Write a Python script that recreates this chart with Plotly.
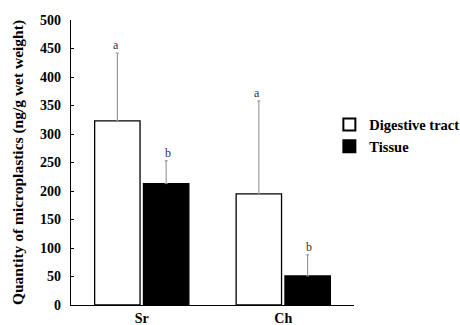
import plotly.graph_objects as go

categories = ["Sr", "Ch"]
digestive = [323, 195]
digestive_err = [119, 163]
tissue = [213, 51]
tissue_err = [40, 37]
digestive_letters = ["a", "a"]
tissue_letters = ["b", "b"]
y_ticks = [0, 50, 100, 150, 200, 250, 300, 350, 400, 450, 500]

FONT = "Liberation Serif"

fig = go.Figure()
fig.add_trace(go.Bar(
    name="Digestive tract", x=categories, y=digestive,
    marker=dict(color="white", line=dict(color="black", width=1.3)),
    error_y=dict(type="data", symmetric=False, array=digestive_err,
                 arrayminus=[0] * len(digestive), color="#8a8a8a",
                 thickness=1, width=1.5),
))
fig.add_trace(go.Bar(
    name="Tissue", x=categories, y=tissue,
    marker=dict(color="black", line=dict(color="black", width=1.3)),
    error_y=dict(type="data", symmetric=False, array=tissue_err,
                 arrayminus=[0] * len(tissue), color="#8a8a8a",
                 thickness=1, width=1.5),
))

for i, c in enumerate(categories):
    fig.add_annotation(x=c, y=digestive[i] + digestive_err[i], text=digestive_letters[i],
                       xshift=-26, yshift=8, showarrow=False,
                       font=dict(family=FONT, size=12, color="#333333"))
    fig.add_annotation(x=c, y=tissue[i] + tissue_err[i], text=tissue_letters[i],
                       xshift=26, yshift=8, showarrow=False,
                       font=dict(family=FONT, size=12, color="#333333"))

fig.update_layout(
    width=460, height=325,
    margin=dict(l=71, r=106, t=20, b=20, autoexpand=False),
    paper_bgcolor="white", plot_bgcolor="white",
    barmode="group", bargap=0.31, bargroupgap=0.07,
    font=dict(family=FONT, size=13, color="black"),
    showlegend=True,
    legend=dict(xref="container", yref="container", x=0.716, xanchor="left",
                y=0.666, yanchor="top",
                font=dict(family=FONT, size=14.5, color="black", weight="bold"),
                bgcolor="rgba(0,0,0,0)", tracegroupgap=0, itemsizing="constant"),
    xaxis=dict(showline=True, linecolor="black", linewidth=1.3, ticks="",
               range=[-0.5, 1.5], tickfont=dict(family=FONT, size=14, weight="bold"),
               showgrid=False, zeroline=False, automargin=False),
    yaxis=dict(showline=True, linecolor="black", linewidth=1.3, range=[0, 500],
               tickvals=y_ticks, ticks="inside", ticklen=3, tickcolor="black",
               tickfont=dict(family=FONT, size=14, weight="bold"),
               ticklabelstandoff=6,
               showgrid=False, zeroline=False, automargin=False,
               title=dict(text="Quantity of microplastics (ng/g wet weight)",
                          font=dict(family=FONT, size=15.5, weight="bold"), standoff=12)),
)

fig.write_html("out.html")
